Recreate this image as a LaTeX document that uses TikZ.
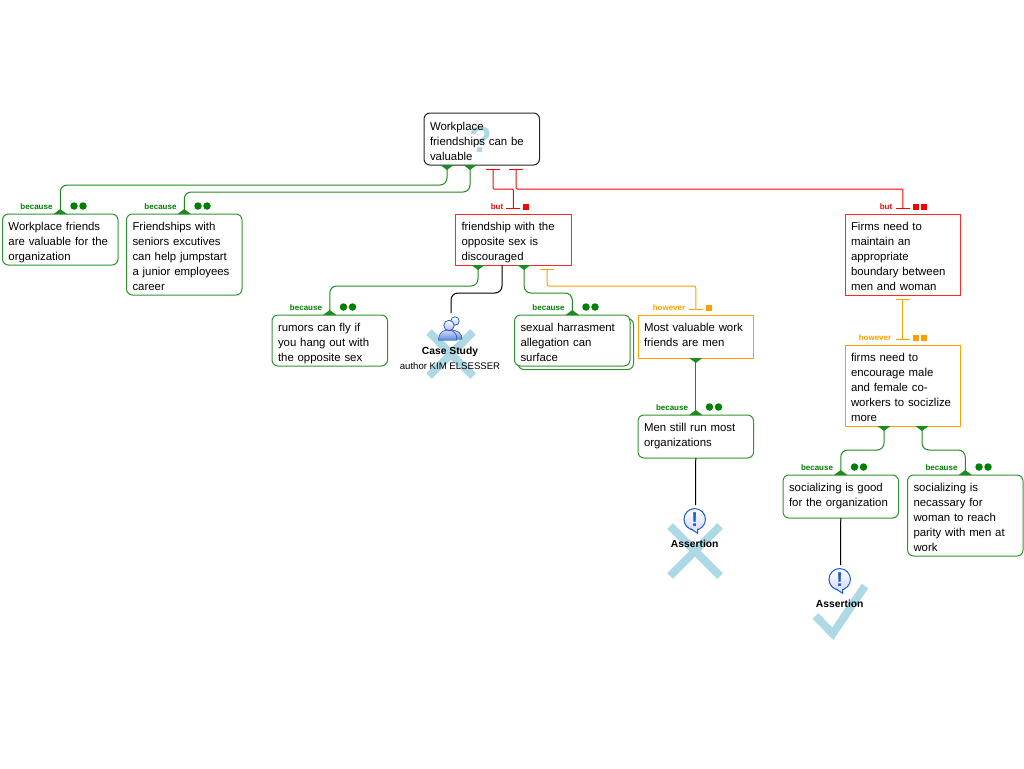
\documentclass[tikz,border=0pt]{standalone}
\usepackage{fontspec}
\setmainfont{Liberation Sans}
\usetikzlibrary{arrows.meta,shadows}
\definecolor{supgreen}{HTML}{008000}
\definecolor{linegreen}{HTML}{1F8A1F}
\definecolor{boxgreen}{HTML}{2F942F}
\definecolor{butred}{HTML}{FF0000}
\definecolor{howorange}{HTML}{FFA000}
\definecolor{markblue}{HTML}{ADD8E6}
\definecolor{iconblue}{HTML}{1A5CC8}
\tikzset{
  claim node/.style={anchor=north west,draw,line width=1pt,outer sep=0pt,inner xsep=6pt,inner ysep=0pt,
    text width=103.5pt,align=left,font=\fontsize{11.4}{15}\selectfont,lead=16,tail=5},
  % height above the first baseline and below the last one
  lead/.style={execute at begin node={\rule{0pt}{#1pt}}},
  tail/.style={execute at end node={\rule[-#1pt]{0pt}{#1pt}}},
  green node/.style={claim node,draw=boxgreen,rounded corners=6pt},
  red node/.style={claim node,draw=butred!85!white},
  orange node/.style={claim node,draw=howorange},
  because line/.style={draw=linegreen,line width=1pt,rounded corners=7pt,
    {Triangle[reversed,width=13pt,length=5pt]}-{Triangle[reversed,width=13pt,length=5pt]}},
  but line/.style={line width=1pt,rounded corners=1pt,shorten <=5pt,shorten >=4pt,
    {Bar[width=14pt]}-{Bar[width=14pt]}},
  plain line/.style={draw=black,line width=1pt,rounded corners=7pt},
  tag/.style={inner sep=0pt,font=\fontsize{8}{8}\selectfont\bfseries},
  dot/.style={circle,fill=supgreen,inner sep=0pt,minimum size=7.5pt},
  square/.style={rectangle,inner sep=0pt,minimum size=6pt},
  pale mark/.style={draw=markblue,line width=8pt},
  icon label/.style={inner sep=0pt,font=\fontsize{9.6}{10}\selectfont},
  strong label/.style={inner sep=0pt,font=\fontsize{10.3}{10}\selectfont\bfseries},
  bubble/.style={circle,draw=iconblue,line width=1pt,top color=white,bottom color=blue!15,
    minimum size=21.5pt,inner sep=0pt,text=iconblue,font=\fontsize{20}{20}\selectfont\bfseries}
}
% green tag above a box
\newcommand{\becausetag}[1]{
  \node[tag,text=supgreen] (#1lab) at ([shift={(34,-7)}]#1.north west) {because};
  \node[dot] (#1dota) at ([shift={(71.5,-8)}]#1.north west) {};
  \node[dot] (#1dotb) at ([shift={(80.5,-8)}]#1.north west) {};
}
\newcommand{\assertion}[3]{
  \node[bubble] (#1) at (#2,#3) {!};
  \fill[blue!10] (#2-4,#3+8.5) -- (#2+3,#3+14) -- (#2+3,#3+8.5) -- cycle;
  \draw[iconblue,line width=1pt] (#2-4,#3+9.5) -- (#2+3,#3+14) -- (#2+3,#3+9.5);
  \node[strong label] (#1lab) at (#2,#3+24.5) {Assertion};
}
\begin{document}
\begin{tikzpicture}[x=1pt,y=-1pt]
  \useasboundingbox (0,0) rectangle (1024,768);

  % pale marks go under everything
  \node[inner sep=0pt,text=markblue,font=\fontsize{37}{37}\selectfont\bfseries] (query) at (481,140) {?};
  \draw[pale mark] (429,332) -- (473,376);
  \draw[pale mark] (473,332) -- (429,376);
  \draw[pale mark] (670,526) -- (720,576);
  \draw[pale mark] (720,526) -- (670,576);
  \draw[pale mark,miter limit=10] (815.5,616) -- (832.7,633.7) -- (865,586);

  \node[claim node,draw=black!85,rounded corners=6pt,lead=17] (root) at (424,113)
    {Workplace\\friendships can be\\valuable};

  \node[green node] (valued) at (2.5,214)
    {Workplace friends\\are valuable for the\\organization};
  \node[green node] (seniors) at (126.5,214)
    {Friendships with\\seniors excutives\\can help jumpstart\\a junior employees\\career};
  \node[red node] (sex) at (455.5,214)
    {friendship with the\\opposite sex is\\discouraged};
  \node[red node] (firms) at (845,214)
    {Firms need to\\maintain an\\appropriate\\boundary between\\men and woman};
  \node[green node,tail=4] (rumors) at (272,315)
    {rumors can fly if\\you hang out with\\the opposite sex};
  \node[green node,tail=4,fill=white,
    copy shadow={shadow xshift=3.5pt,shadow yshift=-3.5pt,draw=boxgreen,fill=white}] (harass) at (514.5,315)
    {sexual harrasment\\allegation can\\surface};
  \node[orange node,tail=12] (menfriends) at (638,315)
    {Most valuable work\\friends are men};
  \node[green node,tail=12] (menrun) at (638,415)
    {Men still run most\\organizations};
  \node[orange node] (socialize) at (845,345)
    {firms need to\\encourage male\\and female co-\\workers to socizlize\\more};
  \node[green node,tail=12] (goodorg) at (783,475)
    {socializing is good\\for the organization};
  \node[green node] (parity) at (907.5,475)
    {socializing is\\necassary for\\woman to reach\\parity with men at\\work};

  % ports on the lower edges
  \coordinate (rootA) at (447,165);
  \coordinate (rootB) at (470,165);
  \coordinate (rootC) at (493,165);
  \coordinate (rootD) at (516,165);
  \coordinate (sexA) at (478,265);
  \coordinate (sexB) at (502,265);
  \coordinate (sexC) at (524,265);
  \coordinate (sexD) at (547,265);
  \coordinate (socA) at (884,426);
  \coordinate (socB) at (922,426);
  \coordinate (caseTop) at (451,313);

  \draw[because line] (valued.north) -- ++(0,-29) -| (rootA);
  \draw[because line] (seniors.north) -- ++(0,-22) -| (rootB);
  \draw[because line] (rumors.north) -- ++(0,-29) -| (sexA);
  \draw[because line] (harass.north) -- ++(0,-22) -| (sexC);
  \draw[because line] (menrun.north) -- (menfriends.south);
  \draw[because line] (goodorg.north) -- ++(0,-25) -| (socA);
  \draw[because line] (parity.north) -- ++(0,-25) -| (socB);

  \draw[but line,butred] (sex.north) -- ++(0,-25) -| (rootC);
  \draw[but line,butred] (firms.north) -- ++(0,-25) -| (rootD);
  \draw[but line,howorange,rounded corners=2pt] (menfriends.north) -- ++(0,-29) -| (sexD);
  \draw[but line,howorange] (socialize.north) -- (firms.south);

  \draw[plain line] (sexB) -- ++(0,28) -| (caseTop);
  \draw[plain line,shorten >=4pt] (menrun.south) -- (695.5,509);
  \draw[plain line,shorten >=4pt] (goodorg.south) -- (840.5,569);

  \foreach \boxname in {valued,seniors,rumors,harass,menrun,goodorg,parity}{
    \becausetag{\boxname}
  }

  \node[tag,text=butred] (sexlab) at (497,207) {but};
  \node[square,fill=butred] (sexsq) at (526,207) {};
  \node[tag,text=butred] (firmslab) at (886,207) {but};
  \node[square,fill=butred] (firmssqa) at (915.5,207) {};
  \node[square,fill=butred] (firmssqb) at (923.5,207) {};
  \node[tag,text=howorange] (menlab) at (669,308) {however};
  \node[square,fill=howorange] (mensq) at (709,308) {};
  \node[tag,text=howorange] (soclab) at (875,338) {however};
  \node[square,fill=howorange] (socsqa) at (915.5,338) {};
  \node[square,fill=howorange] (socsqb) at (923.5,338) {};

  % people icon
  \fill[top color=blue!15,bottom color=iconblue!70,draw=iconblue,line width=.5pt]
    (449,330) .. controls (458,330) and (462,333) .. (462,339) -- (452,339) -- cycle;
  \filldraw[top color=white,bottom color=blue!20,draw=iconblue,line width=.7pt] (455,321) circle (4.2);
  \fill[top color=blue!15,bottom color=iconblue!70,draw=iconblue,line width=.5pt]
    (438.5,340) .. controls (438.5,333) and (443,330) .. (448,330)
    .. controls (453,330) and (457,333) .. (457,340) -- cycle;
  \filldraw[top color=white,bottom color=blue!30,draw=iconblue,line width=.7pt] (449,325.5) circle (5.2);

  \node[strong label] (caselab) at (450,351.5) {Case Study};
  \node[icon label] (authorlab) at (450,366.5) {author KIM ELSESSER};

  \assertion{assertA}{694.7}{519.3}
  \assertion{assertB}{839.7}{579.3}
\end{tikzpicture}
\end{document}
